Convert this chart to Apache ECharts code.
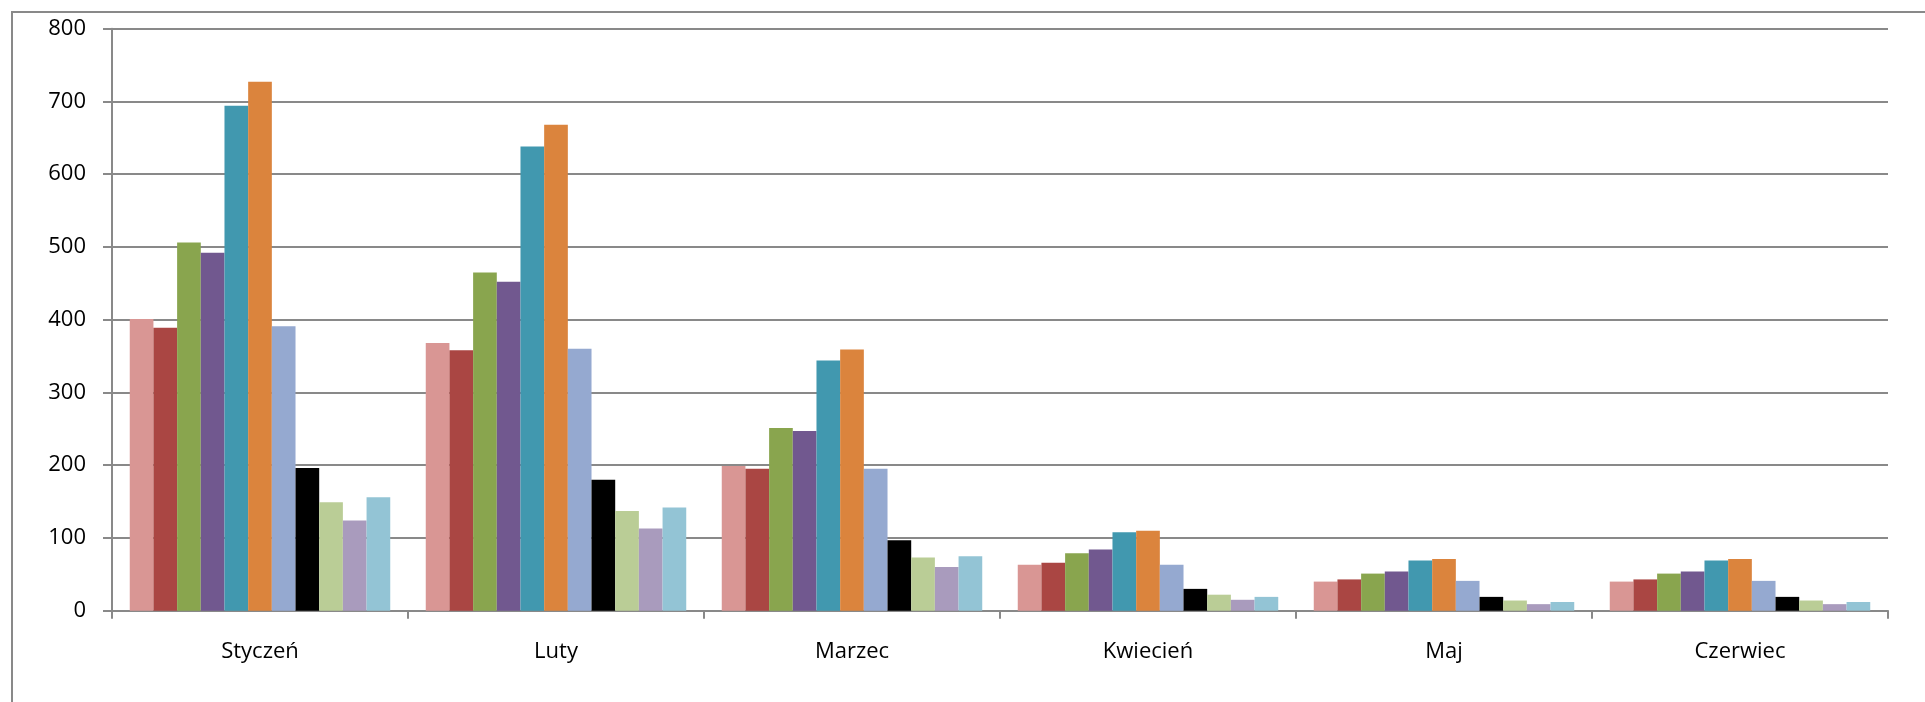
<!DOCTYPE html>
<html>
<head>
<meta charset="utf-8">
<script src="https://cdn.jsdelivr.net/npm/echarts@6/dist/echarts.min.js"></script>
<style>
html,body{margin:0;padding:0;background:#fff;}
#c{width:1925px;height:702px;}
</style>
</head>
<body>
<div id="c"></div>
<script>
var categories = ['Styczeń', 'Luty', 'Marzec', 'Kwiecień', 'Maj', 'Czerwiec'];
var yTicks = [0, 100, 200, 300, 400, 500, 600, 700, 800];

var s1  = [401, 368, 199, 63, 40, 40];
var s2  = [389, 358, 195, 66, 43, 43];
var s3  = [506, 465, 251, 79, 51, 51];
var s4  = [492, 452, 247, 84, 54, 54];
var s5  = [694, 638, 344, 108, 69, 69];
var s6  = [727, 668, 359, 110, 71, 71];
var s7  = [391, 360, 195, 63, 41, 41];
var s8  = [196, 180, 97, 30, 19, 19];
var s9  = [149, 137, 73, 22, 14, 14];
var s10 = [124, 113, 60, 15, 9, 9];
var s11 = [156, 142, 75, 19, 12, 12];

var seriesData = [s1, s2, s3, s4, s5, s6, s7, s8, s9, s10, s11];
var colors = ['#D99694', '#AA4643', '#89A54E', '#71588F', '#4198AF', '#DB843D',
              '#95A9D0', '#000000', '#BACD96', '#A99BBD', '#93C4D5'];

var chart = echarts.init(document.getElementById('c'));
var font = '"Open Sans", "Liberation Sans", sans-serif';
var series = seriesData.map(function (d, i) {
  return {
    type: 'bar',
    data: d,
    barGap: '0%',
    barCategoryGap: '12%',
    itemStyle: { color: colors[i] },
    animation: false
  };
});

chart.setOption({
  animation: false,
  grid: { left: 112, right: 37, top: 28.7, bottom: 91.3, containLabel: false },
  graphic: [{
    type: 'rect',
    shape: { x: 12, y: 12, width: 2000, height: 1000 },
    style: { fill: 'none', stroke: '#898989', lineWidth: 2 },
    silent: true
  }],
  xAxis: {
    type: 'category',
    data: categories,
    axisLine: { show: true, lineStyle: { color: '#898989', width: 2 } },
    axisTick: { show: true, alignWithLabel: false, length: 8, lineStyle: { color: '#898989', width: 2 } },
    axisLabel: { color: '#000', fontSize: 22, fontFamily: font, margin: 30 },
    splitLine: { show: false }
  },
  yAxis: {
    type: 'value',
    min: yTicks[0],
    max: yTicks[yTicks.length - 1],
    interval: yTicks[1] - yTicks[0],
    axisLine: { show: true, lineStyle: { color: '#898989', width: 2 } },
    axisTick: { show: true, length: 9, lineStyle: { color: '#898989', width: 2 } },
    axisLabel: { color: '#000', fontSize: 22, fontFamily: font, margin: 26 },
    splitLine: { show: true, lineStyle: { color: '#898989', width: 2 } }
  },
  series: series
});
</script>
</body>
</html>
